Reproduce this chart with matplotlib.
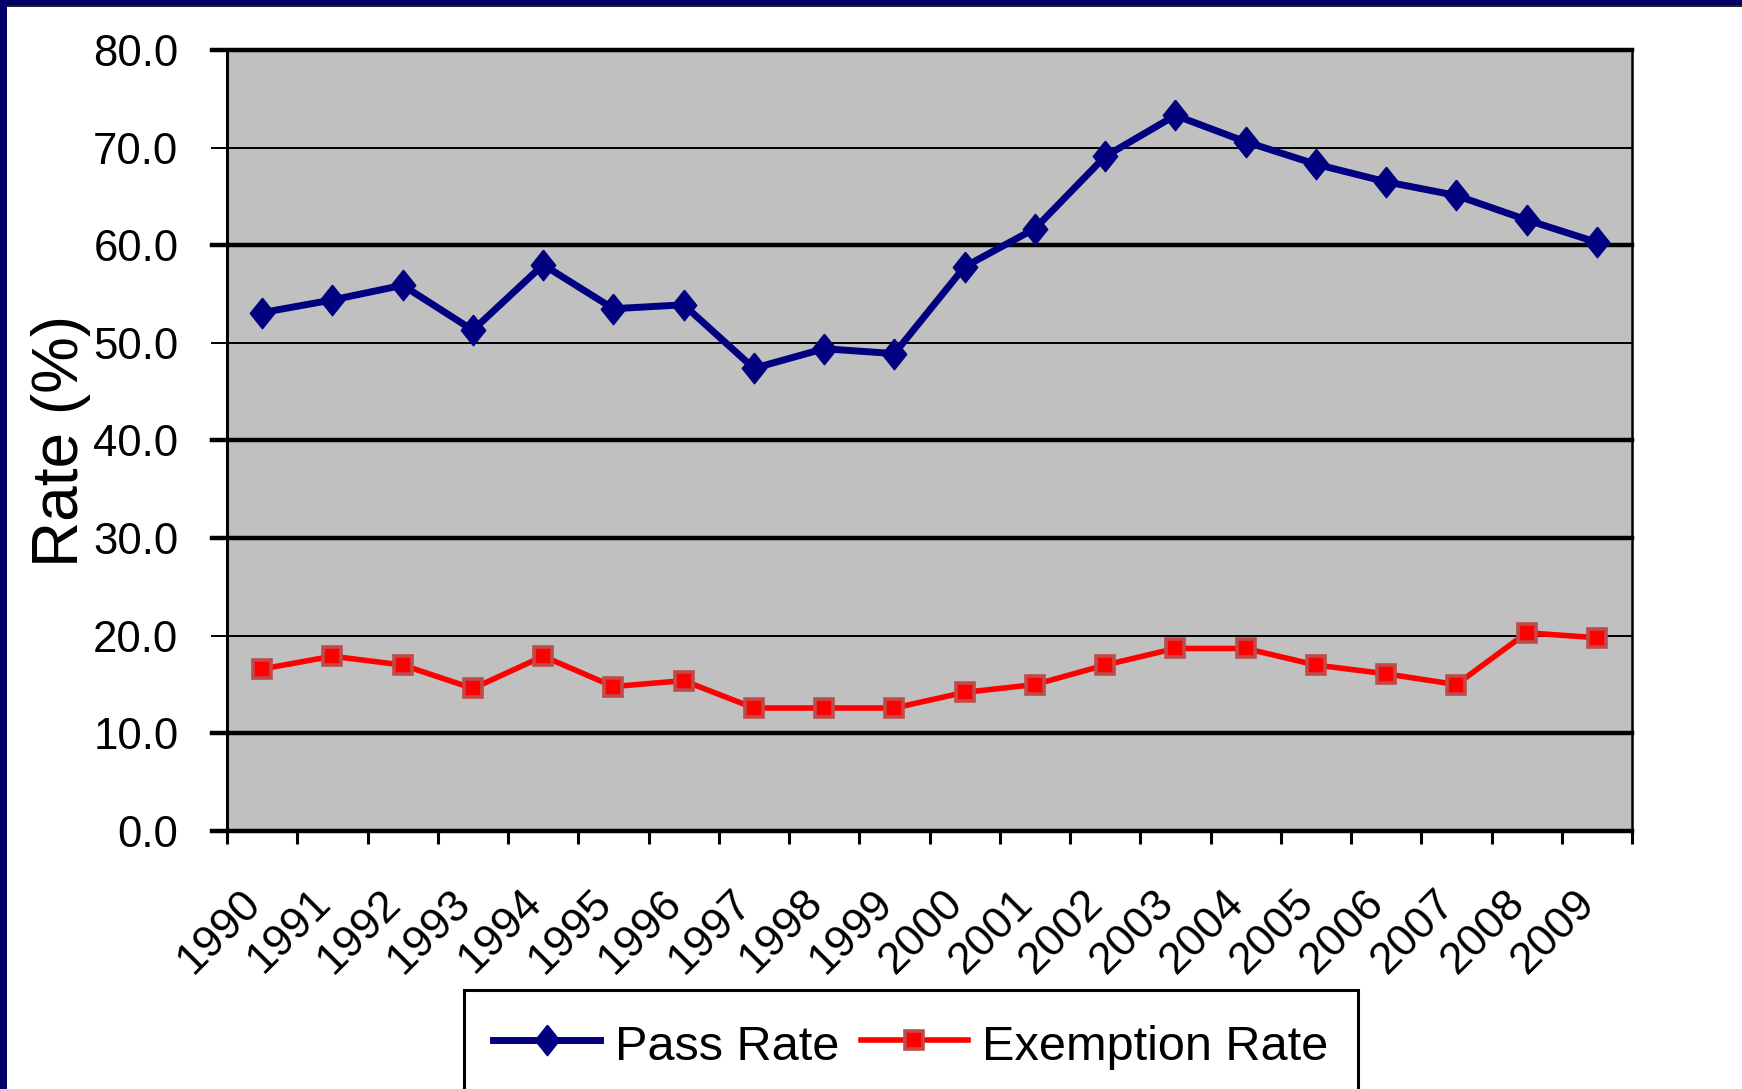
"""
Pass rate vs exemption rate, 1990-2009 — Excel-style line chart.
"""
import matplotlib.pyplot as plt
import numpy as np
from matplotlib.patches import Rectangle

plt.rcParams["font.family"] = ["Liberation Sans", "DejaVu Sans"]

YEARS = [str(y) for y in range(1990, 2010)]

PASS_RATE = [53.1, 54.4, 55.9, 51.3, 58.0, 53.5, 53.9, 47.4, 49.4, 48.9,
             57.8, 61.7, 69.1, 73.3, 70.6, 68.3, 66.5, 65.1, 62.6, 60.3]

EXEMPTION_RATE = [16.6, 17.9, 17.0, 14.6, 17.9, 14.8, 15.4, 12.6, 12.6, 12.6,
                  14.2, 15.0, 17.0, 18.7, 18.7, 17.0, 16.1, 15.0, 20.3, 19.8]

Y_TICKS = np.arange(0, 90, 10)
# gridline weights, one per y tick (0 .. 80)
GRID_WIDTHS = [3.2, 3.2, 1.4, 3.2, 3.2, 1.4, 3.2, 1.4, 3.2]

NAVY = "#000080"
# slightly tall diamond
DIAMOND = [(0, 1), (0.8, 0), (0, -1), (-0.8, 0), (0, 1)]


def main():
    W, H = 1742, 1089
    fig = plt.figure(figsize=(W / 100, H / 100), dpi=100)
    left, right, top, bottom = 227, 1632, 50, 831
    ax = fig.add_axes([left / W, 1 - bottom / H, (right - left) / W, (bottom - top) / H])
    ax.set_facecolor("#C0C0C0")

    x = np.arange(len(YEARS))
    ax.set_xlim(-0.5, len(YEARS) - 0.5)
    ax.set_ylim(0, 80)

    # gridlines run a little past the left spine so they double as y ticks
    for y, lw in zip(Y_TICKS, GRID_WIDTHS):
        ax.axhline(y, xmin=-15 / (right - left), xmax=1, color="black",
                   lw=lw, clip_on=False, zorder=1)

    ax.plot(x, PASS_RATE, color=NAVY, lw=5, marker=DIAMOND, ms=22,
            mfc=NAVY, mec=NAVY, mew=1, label="Pass Rate", zorder=3,
            clip_on=False)
    ax.plot(x, EXEMPTION_RATE, color="#FF0000", lw=4, marker="s", ms=13,
            mfc="#FF0000", mec="#BE4B48", mew=2.6, label="Exemption Rate",
            zorder=3, clip_on=False)

    ax.set_yticks(Y_TICKS)
    ax.set_yticklabels([f"{v:.1f}" for v in Y_TICKS], fontsize=31.5)
    ax.tick_params(axis="y", length=0, pad=35)

    # ticks on category boundaries, labels on category centres
    ax.set_xticks(np.arange(-0.5, len(YEARS)), labels=[])
    ax.tick_params(axis="x", which="major", direction="out", length=9,
                   width=2.2, color="black")
    ax.set_xticks(x, minor=True)
    ax.set_xticklabels(YEARS, minor=True, fontsize=32, rotation=45,
                       ha="right", va="baseline", rotation_mode="anchor")
    ax.tick_params(axis="x", which="minor", length=0, pad=53)

    for side in ("top", "bottom"):
        ax.spines[side].set_visible(False)
    ax.spines["left"].set_linewidth(2.2)
    ax.spines["right"].set_linewidth(1.8)

    ax.set_ylabel("Rate (%)", fontsize=46)
    ax.yaxis.set_label_coords(-0.097, 0.5)

    leg = fig.legend(loc="upper left", bbox_to_anchor=(464 / W, 1 - 990 / H),
                     borderaxespad=0, ncol=2, fontsize=35, handlelength=2.2,
                     handleheight=1.2, handletextpad=0.3, columnspacing=0.45,
                     borderpad=0.6, fancybox=False, framealpha=1,
                     edgecolor="black")
    leg.get_frame().set_linewidth(2.2)

    # navy slide border on the left and top edges
    fig.add_artist(Rectangle((0, 0), 7 / W, 1, transform=fig.transFigure,
                             color="#000066", lw=0))
    fig.add_artist(Rectangle((0, 1 - 5 / H), 1, 5 / H, transform=fig.transFigure,
                             color="#000066", lw=0))
    fig.add_artist(Rectangle((7 / W, 1 - 7 / H), 1, 2 / H, transform=fig.transFigure,
                             color="#222222", lw=0))

    fig.savefig("out.png", dpi=100)


if __name__ == "__main__":
    main()
